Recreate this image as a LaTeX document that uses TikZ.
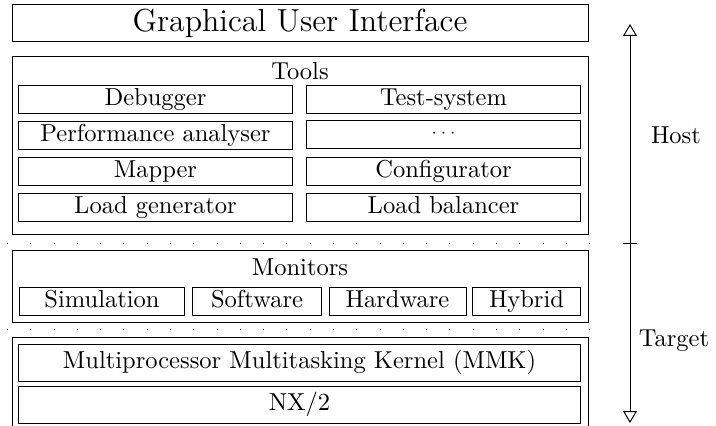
\documentclass[tikz,border=0pt]{standalone}
\usetikzlibrary{arrows.meta}

\begin{document}
\begin{tikzpicture}[
  x=0.408pt, y=-0.408pt,
  frame/.style = {draw, rectangle, inner sep=0pt, minimum width=235pt},
  tool/.style = {draw, rectangle, inner sep=0pt, minimum width=111.4pt,
    minimum height=11.42pt, text height=6.8pt, text depth=1.9pt},
  monitor/.style = {draw, rectangle, inner sep=0pt, minimum height=11.8pt,
    text height=6.8pt, text depth=1.9pt},
  layer/.style = {draw, rectangle, inner sep=0pt, minimum width=228.9pt,
    text height=7pt, text depth=2.5pt},
  sep/.style = {dash pattern=on 0.4pt off 9.1pt},
  updown/.style = {{Triangle[open,width=5.6pt,length=4.8pt]}-{Triangle[open,width=5.6pt,length=4.8pt]}}
  ]
  \useasboundingbox (0,0) rectangle (716,426);
  \clip (0,0) rectangle (716,426);

  % user interface
  \node[frame, minimum height=14.7pt] (gui) at (300,23)
    {\fontsize{13}{16}\selectfont Graphical User Interface};

  % tools
  \node[frame, minimum height=73pt] (tools) at (300,145.5) {};
  \node (toolstitle) at (300,71) {Tools};
  \node[tool] (debugger) at (155.5,99) {Debugger};
  \node[tool] (testsys) at (443.5,99) {Test-system};
  \node[tool] (perf) at (155.5,135) {Performance analyser};
  \node[tool, text height=2.5pt, text depth=0pt] (more) at (443.5,134) {\scriptsize$\cdots$};
  \node[tool] (mapper) at (155.5,171.5) {Mapper};
  \node[tool] (config) at (443.5,171.5) {Configurator};
  \node[tool] (loadgen) at (155.5,207) {Load generator};
  \node[tool] (loadbal) at (443.5,207) {Load balancer};

  \coordinate (sepa) at (7,243);
  \coordinate (sepb) at (612,243);
  \draw[sep] (sepa) -- (sepb);

  % monitors
  \node[frame, minimum height=29pt] (monitors) at (300,286.5) {};
  \node (montitle) at (300,267) {Monitors};
  \node[monitor, minimum width=67.7pt] (sim) at (102,301.5) {Simulation};
  \node[monitor, minimum width=53pt] (soft) at (257,301.5) {Software};
  \node[monitor, minimum width=55.9pt] (hard) at (397.5,301.5) {Hardware};
  \node[monitor, minimum width=43.7pt] (hybrid) at (526.5,301.5) {Hybrid};

  \coordinate (sepc) at (7,329);
  \coordinate (sepd) at (612,329);
  \draw[sep] (sepc) -- (sepd);

  % kernel
  \node[frame, minimum height=42pt] (kernel) at (300,388.5) {};
  \node[layer, minimum height=15.1pt] (mmk) at (299.5,362.5) {Multiprocessor Multitasking Kernel (MMK)};
  \node[layer, minimum height=14.7pt] (nx) at (299.5,405) {NX/2};

  % host / target
  \coordinate (hosttop) at (630,24);
  \coordinate (split) at (630,243);
  \coordinate (targetbot) at (630,423);
  \draw[updown] (hosttop) -- (targetbot);
  \draw ([xshift=-3pt]split) -- ([xshift=3pt]split);
  \node (host) at (676,135) {Host};
  \node (target) at (674,341) {Target};
\end{tikzpicture}
\end{document}
